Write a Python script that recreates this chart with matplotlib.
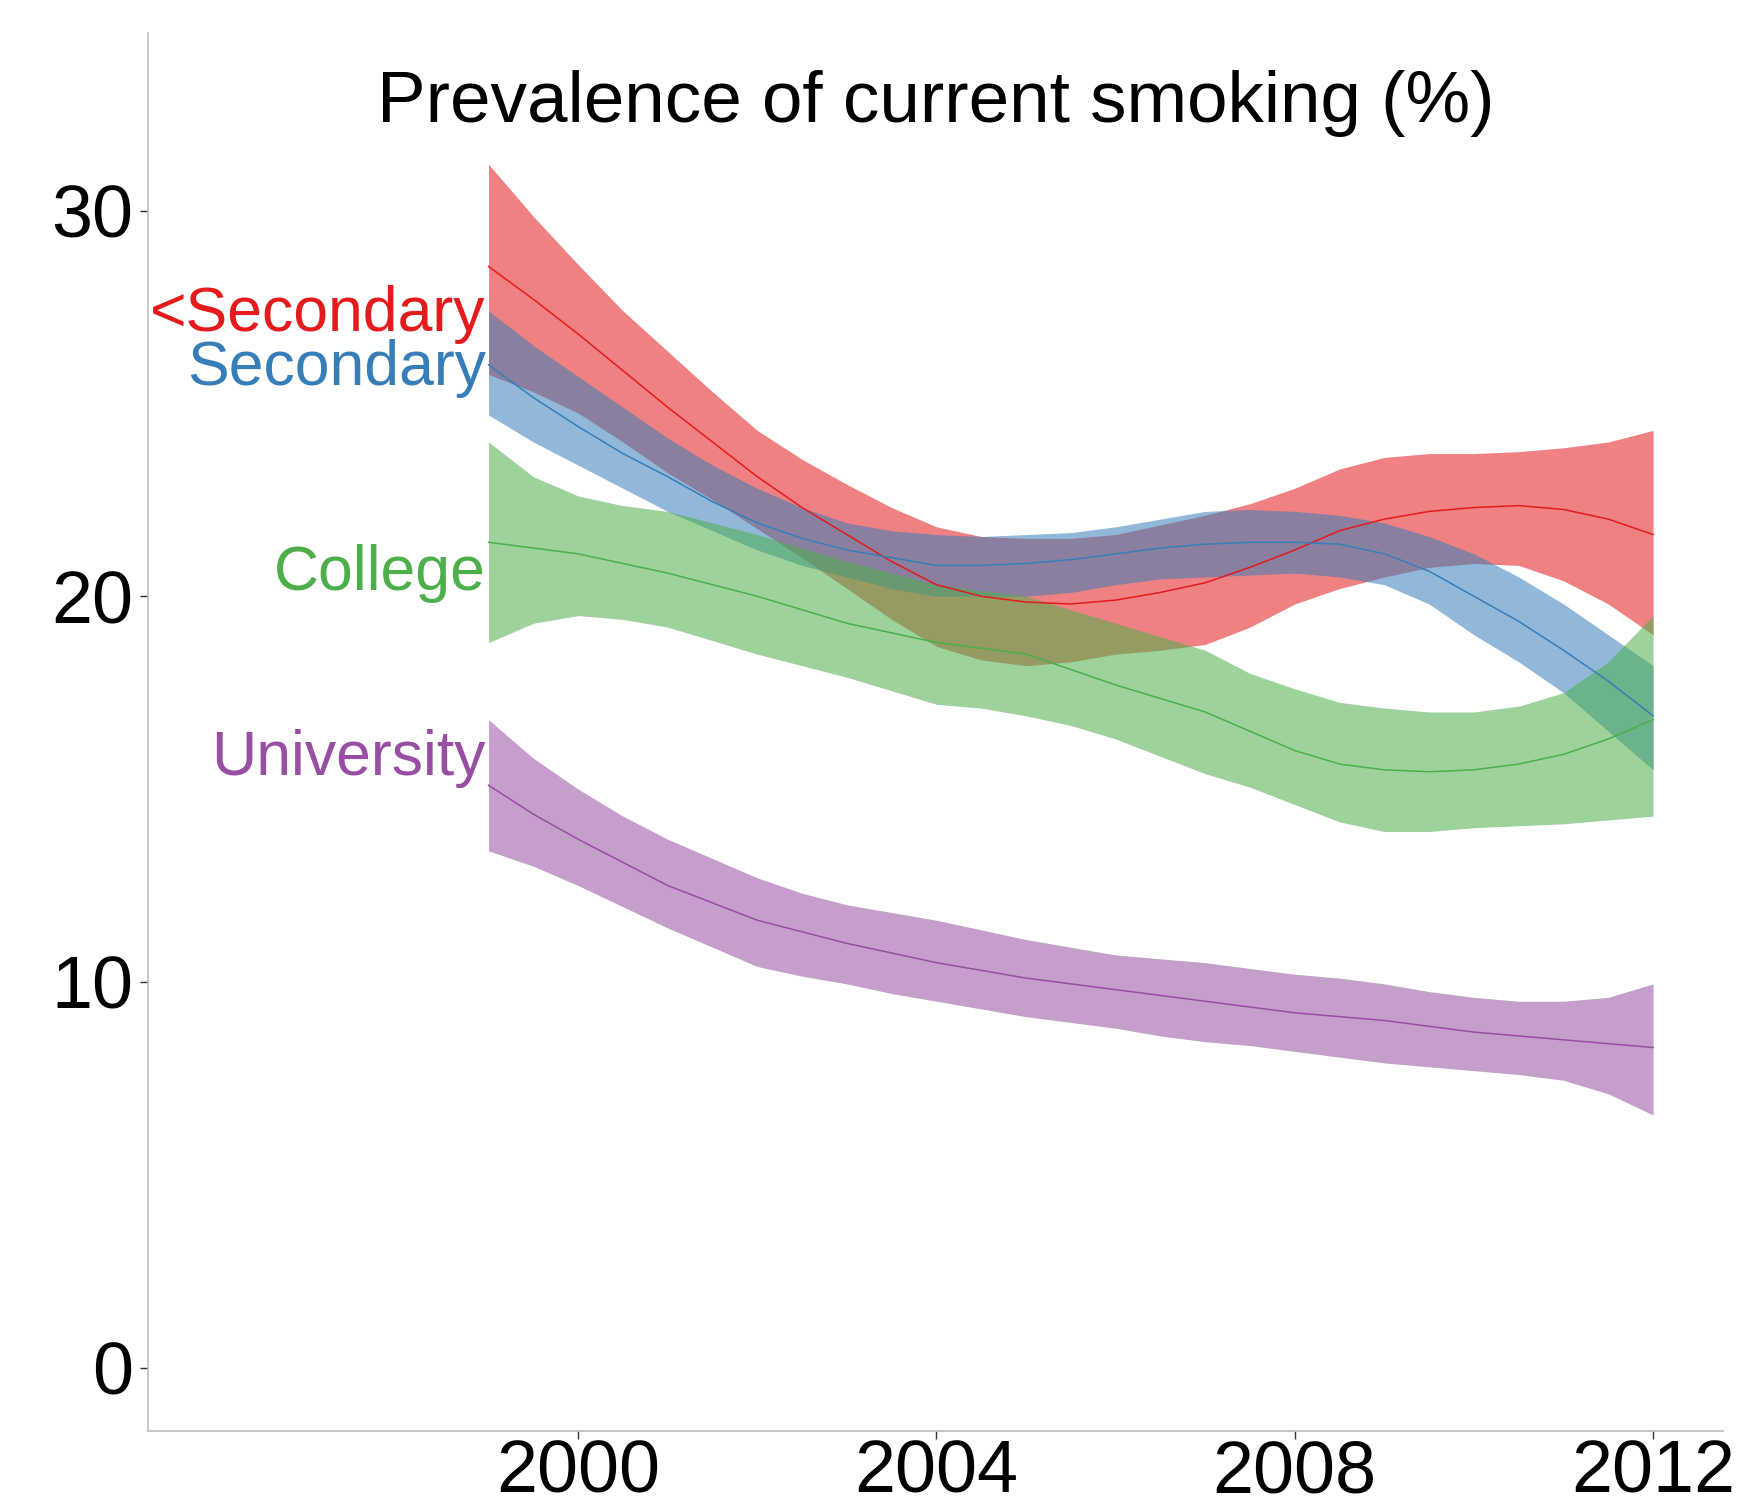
import numpy as np
import matplotlib.pyplot as plt

# half-year grid, 1999 to 2012
years = np.arange(1999, 2012.01, 0.5)

below_sec_mid = [28.55, 27.7, 26.8, 25.85, 24.9, 24.0, 23.1, 22.3, 21.6, 20.9, 20.3, 20.0, 19.85, 19.8,
                 19.9, 20.1, 20.35, 20.75, 21.2, 21.7, 22.0, 22.2, 22.3, 22.35, 22.25, 22.0, 21.6]
below_sec_hi = [31.2, 29.85, 28.6, 27.4, 26.35, 25.3, 24.3, 23.55, 22.9, 22.3, 21.8, 21.55, 21.5, 21.5,
                21.6, 21.85, 22.1, 22.4, 22.8, 23.3, 23.6, 23.7, 23.7, 23.75, 23.85, 24.0, 24.3]
below_sec_lo = [25.75, 25.3, 24.75, 24.0, 23.2, 22.5, 21.75, 21.0, 20.2, 19.4, 18.7, 18.35, 18.2, 18.3,
                18.5, 18.6, 18.75, 19.2, 19.8, 20.2, 20.5, 20.75, 20.85, 20.8, 20.4, 19.8, 19.0]

sec_mid = [26.0, 25.15, 24.4, 23.7, 23.1, 22.45, 21.9, 21.5, 21.2, 21.0, 20.8, 20.8, 20.85, 20.95,
           21.1, 21.25, 21.35, 21.4, 21.4, 21.35, 21.1, 20.65, 20.0, 19.35, 18.6, 17.8, 16.9]
sec_hi = [27.4, 26.5, 25.7, 24.9, 24.1, 23.4, 22.8, 22.3, 21.9, 21.7, 21.6, 21.55, 21.6, 21.65,
          21.8, 22.0, 22.2, 22.25, 22.2, 22.1, 21.9, 21.55, 21.1, 20.5, 19.8, 19.0, 18.2]
sec_lo = [24.7, 24.0, 23.4, 22.8, 22.2, 21.7, 21.2, 20.8, 20.5, 20.2, 20.0, 20.0, 20.0, 20.1,
          20.3, 20.45, 20.5, 20.55, 20.6, 20.5, 20.3, 19.8, 19.0, 18.3, 17.5, 16.5, 15.5]

college_mid = [21.4, 21.25, 21.1, 20.85, 20.6, 20.3, 20.0, 19.65, 19.3, 19.05, 18.8, 18.65, 18.5, 18.1,
               17.7, 17.35, 17.0, 16.5, 16.0, 15.65, 15.5, 15.45, 15.5, 15.65, 15.9, 16.3, 16.8]
college_hi = [24.0, 23.1, 22.6, 22.35, 22.2, 21.9, 21.6, 21.25, 20.9, 20.6, 20.3, 20.15, 20.0, 19.65,
              19.3, 18.95, 18.6, 18.0, 17.6, 17.25, 17.1, 17.0, 17.0, 17.15, 17.5, 18.3, 19.5]
college_lo = [18.8, 19.3, 19.5, 19.4, 19.2, 18.85, 18.5, 18.2, 17.9, 17.55, 17.2, 17.1, 16.9, 16.65,
              16.3, 15.85, 15.4, 15.05, 14.6, 14.15, 13.9, 13.9, 14.0, 14.05, 14.1, 14.2, 14.3]

univ_mid = [15.1, 14.35, 13.7, 13.1, 12.5, 12.05, 11.6, 11.3, 11.0, 10.75, 10.5, 10.3, 10.1, 9.95,
            9.8, 9.65, 9.5, 9.35, 9.2, 9.1, 9.0, 8.85, 8.7, 8.6, 8.5, 8.4, 8.3]
univ_hi = [16.8, 15.8, 15.0, 14.3, 13.7, 13.2, 12.7, 12.3, 12.0, 11.8, 11.6, 11.35, 11.1, 10.9,
           10.7, 10.6, 10.5, 10.35, 10.2, 10.1, 9.95, 9.75, 9.6, 9.5, 9.5, 9.6, 9.95]
univ_lo = [13.4, 13.0, 12.5, 11.95, 11.4, 10.9, 10.4, 10.15, 9.95, 9.7, 9.5, 9.3, 9.1, 8.95,
           8.8, 8.6, 8.45, 8.35, 8.2, 8.05, 7.9, 7.8, 7.7, 7.6, 7.45, 7.1, 6.55]

groups = [
    ("<Secondary", "#E41A1C", below_sec_mid, below_sec_lo, below_sec_hi, 27.3),
    ("Secondary", "#377EB8", sec_mid, sec_lo, sec_hi, 25.9),
    ("College", "#4DAF4A", college_mid, college_lo, college_hi, 20.6),
    ("University", "#984EA3", univ_mid, univ_lo, univ_hi, 15.8),
]

plt.rcParams["font.family"] = ["Liberation Sans", "DejaVu Sans"]

fig = plt.figure(figsize=(17.43, 15.07), dpi=100)
ax = fig.add_axes([0.085, 0.0505, 0.9035, 0.9275])

for name, color, mid, lo, hi, label_y in groups:
    ax.fill_between(years, lo, hi, color=color, alpha=0.55, linewidth=0)
    ax.plot(years, mid, color=color, linewidth=1.1)
    ax.text(1998.97, label_y, name, color=color, fontsize=45,
            ha="right", va="center")

ax.text(0.5, 0.95, "Prevalence of current smoking (%)", transform=ax.transAxes,
        fontsize=52.5, ha="center", va="center")

ax.set_xlim(1995.2, 2012.78)
ax.set_ylim(-1.64, 34.6)
ax.set_xticks([2000, 2004, 2008, 2012])
ax.set_yticks([0, 10, 20, 30])
ax.tick_params(labelsize=53, length=5.5, width=1, color="#333333")
ax.tick_params(axis="x", pad=0)
ax.tick_params(axis="y", pad=5)

for side in ["top", "right"]:
    ax.spines[side].set_visible(False)
for side in ["left", "bottom"]:
    ax.spines[side].set_color("#BEBEBE")
    ax.spines[side].set_linewidth(1.2)

fig.savefig("out.png", dpi=100)
